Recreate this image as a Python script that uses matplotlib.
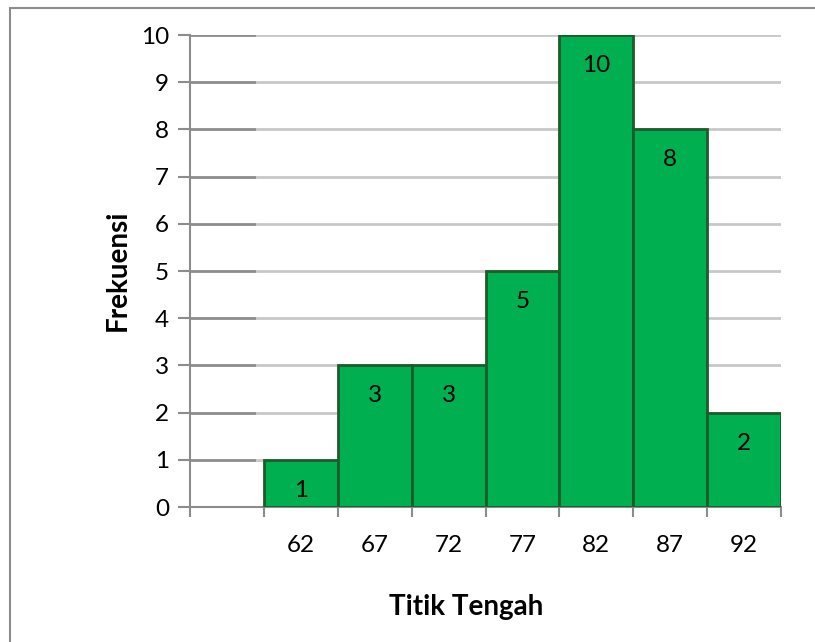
import matplotlib.pyplot as plt
from matplotlib.patches import Rectangle

plt.rcParams["font.family"] = ["Lato", "DejaVu Sans"]
plt.rcParams["font.size"] = 17.5

# data
titik_tengah = ["62", "67", "72", "77", "82", "87", "92"]
frekuensi = [1, 3, 3, 5, 10, 8, 2]

fig = plt.figure(figsize=(8.15, 6.42), dpi=100)
fig.patches.append(Rectangle((10 / 815, -0.1), 1.1, 1 - 8 / 642 + 0.1,
                             transform=fig.transFigure, fill=False,
                             edgecolor="#8c8c8c", linewidth=1.5))

ax = fig.add_axes([190 / 815, 1 - 507 / 642, (781 - 190) / 815, (507 - 35) / 642])

# first slot is empty, bars sit in slots 1..7
pos = [i + 1 for i in range(len(frekuensi))]
ax.bar(pos, frekuensi, width=1.0, color="#00b050", edgecolor="#1e5b2b",
       linewidth=2, zorder=3)

for x, v in zip(pos, frekuensi):
    ax.annotate(str(v), (x, v), xytext=(0, -22), textcoords="offset points",
                ha="center", va="center", fontsize=17.5, zorder=4)

ax.set_xlim(-0.5, 7.5)
ax.set_ylim(0, 10)
ax.set_yticks(range(0, 11))

# gridlines: darker across the empty slot, lighter behind the bars
for y in range(1, 11):
    ax.hlines(y, -0.5, 0.4, color="#8c8c8c", linewidth=2, zorder=1)
    ax.hlines(y, 0.4, 7.5, color="#c8c8c8", linewidth=2, zorder=1)

ax.set_xticks([i - 0.5 for i in range(9)])
ax.set_xticklabels([])
ax.set_xticks(pos, minor=True)
ax.set_xticklabels(titik_tengah, minor=True)
ax.tick_params(axis="x", which="major", length=7, width=1.5, color="#8c8c8c",
               direction="out")
ax.tick_params(axis="x", which="minor", length=0, pad=20)
ax.tick_params(axis="y", length=9, width=1.5, color="#8c8c8c", pad=6)

for s in ["top", "right"]:
    ax.spines[s].set_visible(False)
for s in ["left", "bottom"]:
    ax.spines[s].set_color("#8c8c8c")
    ax.spines[s].set_linewidth(1.5)

fig.text(118 / 815, 1 - 270 / 642, "Frekuensi", rotation=90, ha="center",
         va="center", fontsize=20, fontweight="bold")
fig.text(466 / 815, 1 - 607 / 642, "Titik Tengah", ha="center", va="center",
         fontsize=20, fontweight="bold")

fig.savefig("out.png", dpi=100)
